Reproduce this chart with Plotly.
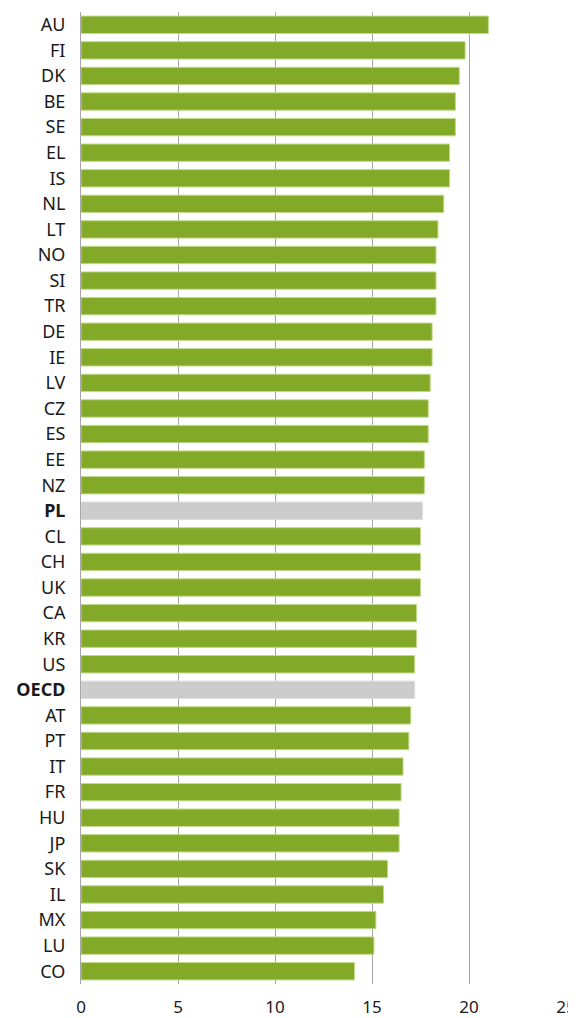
import plotly.graph_objects as go

countries = ["AU", "FI", "DK", "BE", "SE", "EL", "IS", "NL", "LT", "NO", "SI", "TR", "DE", "IE",
             "LV", "CZ", "ES", "EE", "NZ", "PL", "CL", "CH", "UK", "CA", "KR", "US", "OECD",
             "AT", "PT", "IT", "FR", "HU", "JP", "SK", "IL", "MX", "LU", "CO"]
values = [21.0, 19.8, 19.5, 19.3, 19.3, 19.0, 19.0, 18.7, 18.4, 18.3, 18.3, 18.3, 18.1, 18.1,
          18.0, 17.9, 17.9, 17.7, 17.7, 17.6, 17.5, 17.5, 17.5, 17.3, 17.3, 17.2, 17.2,
          17.0, 16.9, 16.6, 16.5, 16.4, 16.4, 15.8, 15.6, 15.2, 15.1, 14.1]
highlight = ["PL", "OECD"]
x_ticks = [0, 5, 10, 15, 20, 25]

GREEN = "#82AA28"
GREY = "#CCCCCC"

colors = [GREY if c in highlight else GREEN for c in countries]
line_colors = ["#DDDDDD" if c in highlight else "#C3DA8C" for c in countries]
ticktext = [f"<b>{c}</b>" if c in highlight else c for c in countries]

fig = go.Figure(go.Bar(
    x=values, y=countries, orientation="h",
    marker=dict(color=colors, line=dict(color=line_colors, width=1)),
    width=0.68,
))

fig.update_layout(
    width=568, height=1010,
    margin=dict(l=73, r=10, t=4, b=34, autoexpand=False),
    paper_bgcolor="white", plot_bgcolor="white",
    font=dict(family="Noto Sans, sans-serif", size=18, color="#1a1a1a"),
    showlegend=False,
    xaxis=dict(range=[0, 25], tickvals=x_ticks, showgrid=True, gridcolor="#A6A6A6",
               gridwidth=1, zeroline=False, showline=False, ticks="",
               ticklabelstandoff=11, tickfont=dict(size=17), automargin=False,
               layer="below traces"),
    yaxis=dict(categoryorder="array", categoryarray=countries[::-1],
               tickvals=countries, ticktext=ticktext,
               showgrid=False, showline=True, linecolor="#A6A6A6", linewidth=1,
               ticks="", ticklabelstandoff=11, tickfont=dict(size=18), automargin=False),
)

fig.write_html("out.html")
